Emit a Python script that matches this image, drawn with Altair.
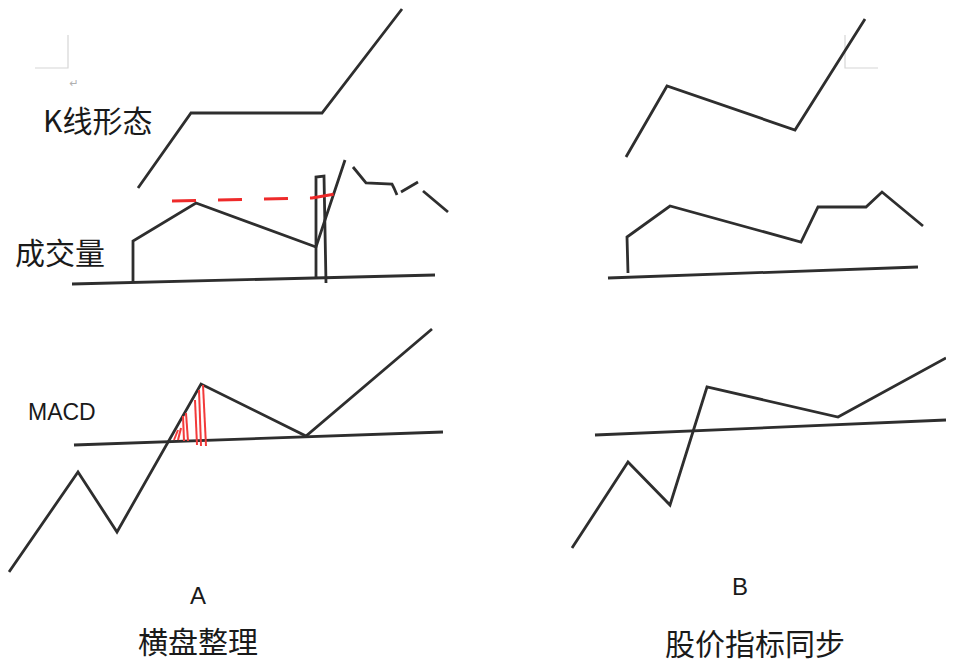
import altair as alt
import pandas as pd

# ---- polylines (image pixel units) ----
# panel A (横盘整理)
k_a_x = [138, 191, 322, 402]
k_a_y = [188, 113, 113, 9]
vol_a_base_x = [72, 435]
vol_a_base_y = [284, 275]
vol_a_x = [133, 133, 196, 316, 345]
vol_a_y = [283, 241, 203, 247, 160]
bar_a_x = [316, 316, 324, 326]
bar_a_y = [279, 177, 176, 283]
tail1_x = [353, 366, 392, 394, 397]
tail1_y = [167, 183, 184, 188, 195]
tail2_x = [401, 418]
tail2_y = [192, 182]
tail3_x = [423, 448]
tail3_y = [191, 212]
macd_a_base_x = [74, 443]
macd_a_base_y = [445, 432]
macd_a_x = [9, 78, 117, 201, 306, 432]
macd_a_y = [572, 472, 532, 384, 436, 329]
# red dashed volume level
red_x = [172, 312, 352]
red_y = [201, 198, 191]
# red hatching under the MACD peak
hatch_x = [174, 178, 184, 188, 197, 201, 206]
hatch_y = [440, 440, 441, 441, 445, 446, 446]
hatch_x2 = [178, 181, 183, 186, 195, 199, 203]
hatch_y2 = [430, 428, 416, 413, 400, 390, 385]

# panel B (股价指标同步)
k_b_x = [626, 667, 795, 865]
k_b_y = [157, 86, 130, 19]
vol_b_base_x = [608, 918]
vol_b_base_y = [278, 267]
vol_b_x = [628, 627, 670, 801, 818, 866, 882, 923]
vol_b_y = [273, 237, 206, 242, 207, 207, 192, 226]
macd_b_base_x = [595, 946]
macd_b_base_y = [435, 420]
macd_b_x = [572, 628, 670, 707, 838, 946]
macd_b_y = [548, 462, 505, 387, 417, 358]

# page-corner marks (light grey)
corner_l_x = [35, 68, 68]
corner_l_y = [68, 68, 35]
corner_r_x = [845, 845, 878]
corner_r_y = [35, 68, 68]

# labels
cjk_labels = ["K线形态", "成交量", "横盘整理", "股价指标同步"]
cjk_x = [43, 15, 138, 665]
cjk_y = [123, 255, 644, 646]
latin_labels = ["MACD", "A", "B"]
latin_x = [28, 198, 740]
latin_y = [413, 597, 588]


def poly(name, xs, ys):
    return pd.DataFrame({"x": xs, "y": ys, "s": name, "i": range(len(xs))})


black = pd.concat([
    poly("k_a", k_a_x, k_a_y),
    poly("vol_a_base", vol_a_base_x, vol_a_base_y),
    poly("vol_a", vol_a_x, vol_a_y),
    poly("bar_a", bar_a_x, bar_a_y),
    poly("tail1", tail1_x, tail1_y),
    poly("tail2", tail2_x, tail2_y),
    poly("tail3", tail3_x, tail3_y),
    poly("macd_a_base", macd_a_base_x, macd_a_base_y),
    poly("macd_a", macd_a_x, macd_a_y),
    poly("k_b", k_b_x, k_b_y),
    poly("vol_b_base", vol_b_base_x, vol_b_base_y),
    poly("vol_b", vol_b_x, vol_b_y),
    poly("macd_b_base", macd_b_base_x, macd_b_base_y),
    poly("macd_b", macd_b_x, macd_b_y),
])
red = poly("red", red_x, red_y)
grey = pd.concat([poly("cl", corner_l_x, corner_l_y), poly("cr", corner_r_x, corner_r_y)])
hatch = pd.DataFrame({"x": hatch_x, "y": hatch_y, "x2": hatch_x2, "y2": hatch_y2})
cjk = pd.DataFrame({"x": cjk_x, "y": cjk_y, "t": cjk_labels})
latin = pd.DataFrame({"x": latin_x, "y": latin_y, "t": latin_labels})
mark_ret = pd.DataFrame({"x": [74], "y": [84], "t": ["↵"]})

X = alt.X("x:Q", scale=alt.Scale(domain=[8, 946], nice=False, zero=False), axis=None)
Y = alt.Y("y:Q", scale=alt.Scale(domain=[663, 8], nice=False, zero=False), axis=None)

lines = alt.Chart(black).mark_line(color="#2e2e2e", strokeWidth=2.8).encode(
    x=X, y=Y, detail="s:N", order="i:Q")
dashed = alt.Chart(red).mark_line(color="#ee2a2a", strokeWidth=3, strokeDash=[24, 22]).encode(
    x=X, y=Y, order="i:Q")
greys = alt.Chart(grey).mark_line(color="#d6d6d6", strokeWidth=1.2).encode(
    x=X, y=Y, detail="s:N", order="i:Q")
hatches = alt.Chart(hatch).mark_rule(color="#f23a3a", strokeWidth=2).encode(
    x=X, y=Y, x2="x2:Q", y2="y2:Q")
cjk_text = alt.Chart(cjk).mark_text(font="Noto Sans CJK SC", fontSize=30, align="left",
                                    baseline="middle", color="#1a1a1a").encode(
    x=X, y=Y, text="t:N")
latin_left = alt.Chart(latin.iloc[[0]]).mark_text(font="Liberation Sans", fontSize=23, align="left",
                                                  baseline="middle", color="#1a1a1a").encode(
    x=X, y=Y, text="t:N")
latin_center = alt.Chart(latin.iloc[1:]).mark_text(font="Liberation Sans", fontSize=24, align="center",
                                                   baseline="middle", color="#1a1a1a").encode(
    x=X, y=Y, text="t:N")
ret = alt.Chart(mark_ret).mark_text(font="DejaVu Sans", fontSize=11, align="center",
                                    baseline="middle", color="#b0b0b0").encode(
    x=X, y=Y, text="t:N")

chart = alt.layer(greys, ret, lines, dashed, hatches, cjk_text, latin_left, latin_center).properties(
    width=938, height=655, padding=0, autosize=alt.AutoSizeParams(type="none"),
    background="white"
).configure_view(stroke=None)

chart.save("out.html", embed_options={"renderer": "svg", "actions": False})
